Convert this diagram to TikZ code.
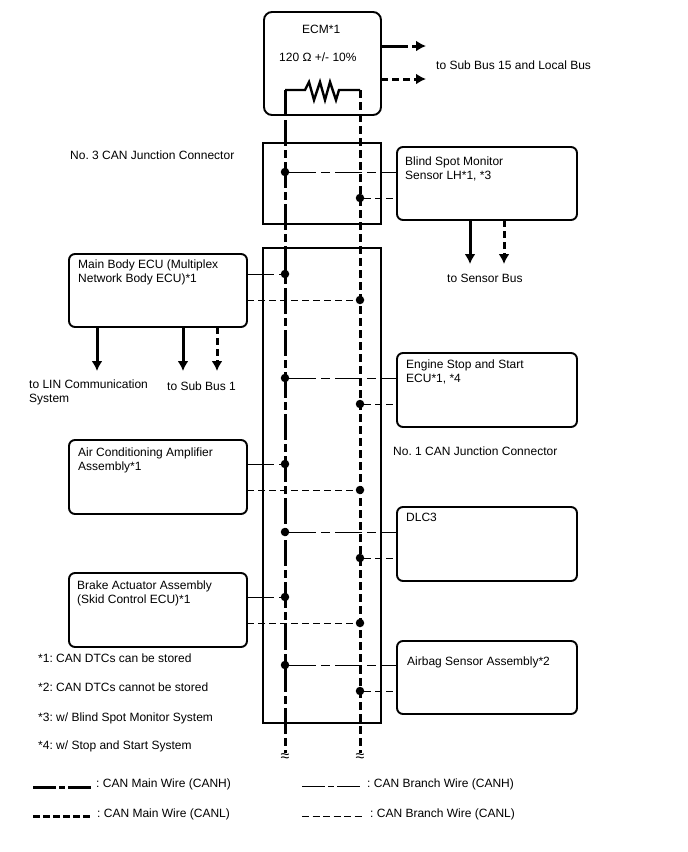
\documentclass[tikz,border=0pt]{standalone}
\usepackage{fontspec}
\setmainfont{Liberation Sans}
\usetikzlibrary{arrows.meta}
\frenchspacing
\tikzset{
  x=1pt,y=-1pt,
  ecu/.style={draw=black,line width=1.9pt,rounded corners=6pt,fill=white},
  jbox/.style={draw=black,line width=1.9pt},
  lbl/.style={anchor=base west,inner sep=0pt,font=\fontsize{12}{14}\selectfont,align=left,text=black},
  brk/.style={lbl,font=\fontsize{16}{16}\selectfont},
  mainh/.style={line width=3pt,dash pattern=on 26pt off 4pt on 8pt off 4pt},
  mainl/.style={line width=3pt,dash pattern=on 7.5pt off 4.5pt},
  branchh/.style={line width=1pt,dash pattern=on 27pt off 5pt on 9pt off 5pt},
  branchl/.style={line width=1pt,dash pattern=on 7pt off 4pt},
  dot/.style={circle,fill=black,inner sep=0pt,minimum size=8.5pt},
  outh/.style={line width=3pt,-{Latex[length=10pt,width=11pt]}},
  outl/.style={line width=3pt,dash pattern=on 7pt off 4pt,-{Latex[length=10pt,width=11pt]}},
}
\begin{document}
\begin{tikzpicture}
\useasboundingbox (0,0) rectangle (688,852);
\fill[white] (0,0) rectangle (688,852);

% junction connector outlines
\draw[jbox] (263,143) rectangle (381,224);
\draw[jbox] (263,248) rectangle (381,723);

% ECM with its termination resistor
\draw[ecu,rounded corners=8pt] (264,12) rectangle (381,115);
\node[lbl] (ecmname) at (302,33) {ECM*1};
\node[lbl] (ecmres) at (279,61) {120 Ω +/- 10\%};

% control units on either side of the bus
\draw[ecu] (397,147) rectangle (577,220);
\draw[ecu] (69,254) rectangle (247,327);
\draw[ecu] (397,353) rectangle (577,427);
\draw[ecu] (69,440) rectangle (247,514);
\draw[ecu] (397,507) rectangle (577,581);
\draw[ecu] (69,573) rectangle (247,647);
\draw[ecu] (397,641) rectangle (577,714);

% terminals of the bus
\coordinate (hTop) at (285,90);
\coordinate (lTop) at (360,90);
\coordinate (hEnd) at (285,753);
\coordinate (lEnd) at (360,753);

% resistor and main wires
\draw[line width=2.4pt,line join=miter] (hTop) -- (305,90) -- (309,82) -- (314,100) -- (320,82) -- (325,100) -- (330,82) -- (336,100) -- (339,90) -- (lTop);
\draw[line width=3pt] (hTop) -- (285,116);
\draw[mainh] (285,120) -- (hEnd);
\draw[mainl] (lTop) -- (lEnd);
\node[brk] (hBreak) at (280.3,761) {≈};
\node[brk] (lBreak) at (355.3,761) {≈};

% junction dots
\foreach \n/\x/\y in {a/285/172,b/360/198,c/285/274,d/360/300,e/285/378,f/360/404,g/285/464,h/360/490,i/285/532,j/360/558,k/285/597,l/360/623,m/285/665,n/360/691}
  \node[dot] (\n) at (\x,\y) {};

% branches to the units
\coordinate (bsmH) at (397,172);
\coordinate (bsmL) at (397,198);
\coordinate (mbH) at (247,274);
\coordinate (mbL) at (247,300);
\coordinate (essH) at (397,378);
\coordinate (essL) at (397,404);
\coordinate (acH) at (247,464);
\coordinate (acL) at (247,490);
\coordinate (dlcH) at (397,532);
\coordinate (dlcL) at (397,558);
\coordinate (brH) at (247,597);
\coordinate (brL) at (247,623);
\coordinate (abH) at (397,665);
\coordinate (abL) at (397,691);
\draw[branchh] (a) -- (bsmH);
\draw[branchl] (b) -- (bsmL);
\draw[branchh] (mbH) -- (c);
\draw[branchl] (mbL) -- (d);
\draw[branchh] (e) -- (essH);
\draw[branchl] (f) -- (essL);
\draw[branchh] (acH) -- (g);
\draw[branchl] (acL) -- (h);
\draw[branchh] (i) -- (dlcH);
\draw[branchl] (j) -- (dlcL);
\draw[branchh] (brH) -- (k);
\draw[branchl] (brL) -- (l);
\draw[branchh] (m) -- (abH);
\draw[branchl] (n) -- (abL);

% buses leaving the units
\coordinate (o1) at (381,46);
\coordinate (o1e) at (426,46);
\coordinate (o2) at (381,79);
\coordinate (o2e) at (426,79);
\draw[line width=3pt] (o1) -- (408,46);
\draw[outh] (412,46) -- (o1e);
\draw[outl] (o2) -- (o2e);
\draw[outh] (470,220) -- (470,264);
\draw[outl] (504,220) -- (504,264);
\draw[outh] (97,327) -- (97,371);
\draw[outh] (183,327) -- (183,371);
\draw[outl] (217,327) -- (217,371);

% labels
\node[lbl] (t1) at (436,69) {to Sub Bus 15 and Local Bus};
\node[lbl] (t2) at (70,159) {No. 3 CAN Junction Connector};
\node[lbl] (t3) at (405,179) {Blind Spot Monitor\\Sensor LH*1, *3};
\node[lbl] (t4) at (447,282) {to Sensor Bus};
\node[lbl] (t5) at (78,282) {Main Body ECU (Multiplex\\Network Body ECU)*1};
\node[lbl] (t6) at (29,402) {to LIN Communication\\System};
\node[lbl] (t7) at (167,390) {to Sub Bus 1};
\node[lbl] (t8) at (406,382) {Engine Stop and Start\\ECU*1, *4};
\node[lbl] (t9) at (393,455) {No. 1 CAN Junction Connector};
\node[lbl] (t10) at (78,470) {Air Conditioning Amplifier\\Assembly*1};
\node[lbl] (t11) at (406,521) {DLC3};
\node[lbl] (t12) at (77,603) {Brake Actuator Assembly\\(Skid Control ECU)*1};
\node[lbl] (t13) at (407,665) {Airbag Sensor Assembly*2};
\node[lbl] (n1) at (38,662) {*1: CAN DTCs can be stored};
\node[lbl] (n2) at (38,691) {*2: CAN DTCs cannot be stored};
\node[lbl] (n3) at (38,721) {*3: w/ Blind Spot Monitor System};
\node[lbl] (n4) at (38,749) {*4: w/ Stop and Start System};

% legend
\coordinate (k1a) at (33,787);
\coordinate (k1b) at (91,787);
\coordinate (k2a) at (33,816);
\coordinate (k2b) at (92,816);
\coordinate (k3a) at (302,786);
\coordinate (k3b) at (361,786);
\coordinate (k4a) at (302,816);
\coordinate (k4b) at (362,816);
\draw[line width=3pt,dash pattern=on 23pt off 3pt on 6pt off 3pt] (k1a) -- (k1b);
\draw[mainl,dash pattern=on 7pt off 3pt] (k2a) -- (k2b);
\draw[line width=1pt,dash pattern=on 23pt off 3pt on 6pt off 3pt] (k3a) -- (k3b);
\draw[branchl,dash pattern=on 7pt off 3.5pt] (k4a) -- (k4b);
\node[lbl] (l1) at (96,787) {: CAN Main Wire (CANH)};
\node[lbl] (l2) at (97,817) {: CAN Main Wire (CANL)};
\node[lbl] (l3) at (367,787) {: CAN Branch Wire (CANH)};
\node[lbl] (l4) at (370,817) {: CAN Branch Wire (CANL)};
\end{tikzpicture}
\end{document}
